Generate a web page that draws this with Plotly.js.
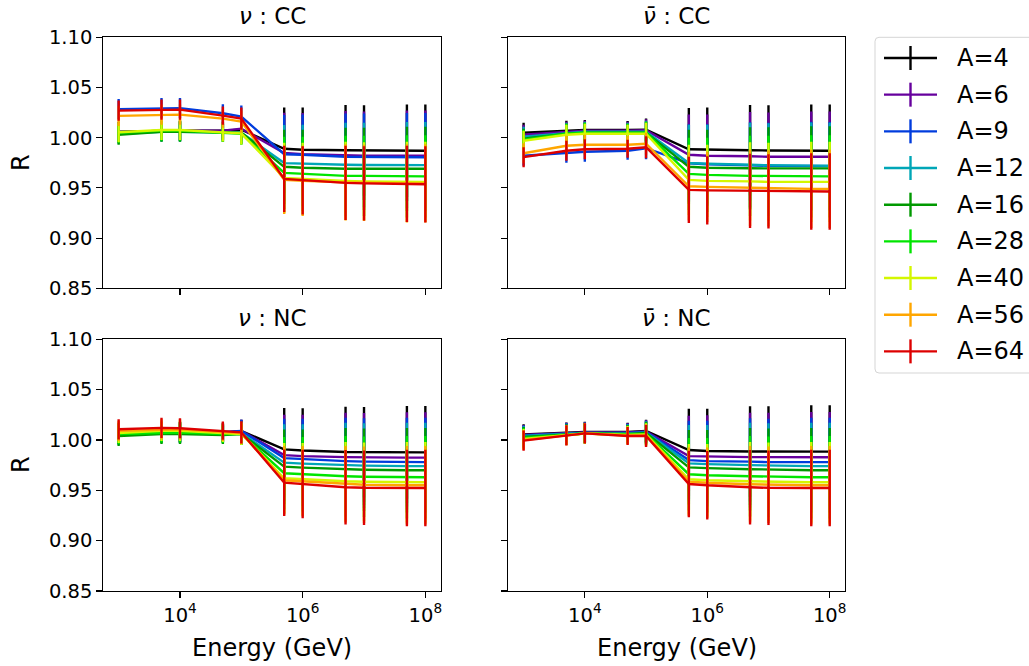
<!DOCTYPE html>
<html><head><meta charset="utf-8">
<script src="https://cdn.plot.ly/plotly-3.0.1.min.js"></script>
<style>html,body{margin:0;padding:0;background:#fff;} #chart{width:1029px;height:666px;}</style>
</head><body><div id="chart"></div>
<script>
// ---------------- data ----------------
const energy = [1e3, 5e3, 1e4, 5e4, 1e5, 5e5, 1e6, 5e6, 1e7, 5e7, 1e8];
const seriesLabels = ['A=4', 'A=6', 'A=9', 'A=12', 'A=16', 'A=28', 'A=40', 'A=56', 'A=64'];
const seriesColors = ['#000000', '#66009d', '#003cdd', '#00a6b7', '#009900', '#00e500', '#d4f700', '#ffa600', '#dd0000'];
const panelTitles = ['<i>ν</i> : CC', '<i>ν̄</i> : CC', '<i>ν</i> : NC', '<i>ν̄</i> : NC'];
const xTickVals = [1e4, 1e6, 1e8];
const xTickText = ['10<sup>4</sup>', '10<sup>6</sup>', '10<sup>8</sup>'];
const yTickVals = [0.85, 0.90, 0.95, 1.00, 1.05, 1.10];
const yTickText = ['0.85', '0.90', '0.95', '1.00', '1.05', '1.10'];

// R values, one row per series (A=4 ... A=64)
const nuCC = [
  [1.006, 1.007, 1.007, 1.007, 1.008, 0.989, 0.988, 0.9875, 0.9873, 0.987, 0.987],
  [1.005, 1.007, 1.007, 1.007, 1.009, 0.9848, 0.9835, 0.9825, 0.982, 0.982, 0.982],
  [1.0285, 1.0295, 1.0295, 1.0243, 1.021, 0.9835, 0.983, 0.981, 0.981, 0.9807, 0.9806],
  [1.004, 1.006, 1.006, 1.005, 1.005, 0.9747, 0.974, 0.973, 0.9728, 0.9727, 0.9727],
  [1.003, 1.006, 1.006, 1.005, 1.005, 0.971, 0.970, 0.969, 0.969, 0.969, 0.969],
  [1.005, 1.007, 1.007, 1.005, 1.004, 0.965, 0.964, 0.962, 0.962, 0.9615, 0.9615],
  [1.0055, 1.0077, 1.0077, 1.0053, 1.0043, 0.960, 0.959, 0.957, 0.9565, 0.956, 0.956],
  [1.0217, 1.023, 1.023, 1.019, 1.016, 0.958, 0.957, 0.9555, 0.955, 0.9545, 0.9545],
  [1.027, 1.028, 1.028, 1.022, 1.019, 0.959, 0.9576, 0.955, 0.9545, 0.954, 0.9536]
];
const nubarCC = [
  [1.0049, 1.007, 1.0076, 1.0076, 1.008, 0.9885, 0.988, 0.9875, 0.9873, 0.987, 0.987],
  [1.003, 1.006, 1.007, 1.007, 1.0075, 0.983, 0.982, 0.9815, 0.981, 0.981, 0.981],
  [0.982, 0.985, 0.986, 0.987, 0.9895, 0.9745, 0.9735, 0.9725, 0.972, 0.9718, 0.9717],
  [1.001, 1.005, 1.006, 1.006, 1.006, 0.9748, 0.974, 0.973, 0.9725, 0.9722, 0.972],
  [0.999, 1.004, 1.005, 1.005, 1.005, 0.971, 0.970, 0.9695, 0.9694, 0.9694, 0.9694],
  [0.998, 1.004, 1.005, 1.005, 1.005, 0.964, 0.963, 0.962, 0.962, 0.9615, 0.9615],
  [0.997, 1.003, 1.004, 1.004, 1.004, 0.958, 0.957, 0.9565, 0.956, 0.956, 0.956],
  [0.9845, 0.992, 0.993, 0.993, 0.994, 0.9516, 0.951, 0.950, 0.9495, 0.949, 0.949],
  [0.9806, 0.987, 0.9885, 0.989, 0.9905, 0.948, 0.9475, 0.947, 0.9466, 0.9464, 0.9464]
];
const nuNC = [
  [1.006, 1.0075, 1.0075, 1.007, 1.009, 0.9907, 0.9895, 0.988, 0.9878, 0.9877, 0.9877],
  [1.006, 1.0075, 1.0075, 1.007, 1.009, 0.985, 0.984, 0.983, 0.9827, 0.9825, 0.9825],
  [1.007, 1.008, 1.008, 1.008, 1.009, 0.982, 0.981, 0.979, 0.9785, 0.978, 0.978],
  [1.005, 1.007, 1.007, 1.006, 1.007, 0.9775, 0.9765, 0.975, 0.9745, 0.974, 0.974],
  [1.004, 1.006, 1.006, 1.005, 1.006, 0.9735, 0.9725, 0.971, 0.9705, 0.970, 0.970],
  [1.006, 1.0075, 1.0075, 1.006, 1.006, 0.967, 0.966, 0.964, 0.9635, 0.963, 0.963],
  [1.007, 1.009, 1.009, 1.007, 1.006, 0.962, 0.961, 0.959, 0.9585, 0.958, 0.958],
  [1.009, 1.0105, 1.0105, 1.008, 1.007, 0.960, 0.959, 0.956, 0.9555, 0.955, 0.955],
  [1.0106, 1.012, 1.0116, 1.0093, 1.0076, 0.9576, 0.9563, 0.953, 0.9525, 0.9523, 0.9523]
];
const nubarNC = [
  [1.0056, 1.0073, 1.008, 1.008, 1.009, 0.990, 0.989, 0.9886, 0.9885, 0.9884, 0.9884],
  [1.005, 1.007, 1.0075, 1.0075, 1.0085, 0.984, 0.9835, 0.983, 0.983, 0.9828, 0.9828],
  [1.0045, 1.0065, 1.007, 1.007, 1.008, 0.980, 0.979, 0.9785, 0.978, 0.978, 0.978],
  [1.004, 1.006, 1.007, 1.0065, 1.0075, 0.9768, 0.976, 0.975, 0.9745, 0.974, 0.974],
  [1.003, 1.0055, 1.0065, 1.006, 1.007, 0.9728, 0.972, 0.971, 0.9705, 0.970, 0.970],
  [1.002, 1.005, 1.0065, 1.0055, 1.006, 0.966, 0.965, 0.964, 0.9635, 0.963, 0.963],
  [1.001, 1.005, 1.0065, 1.005, 1.0055, 0.961, 0.960, 0.959, 0.9585, 0.958, 0.958],
  [1.000, 1.0048, 1.0066, 1.0045, 1.0048, 0.9586, 0.9575, 0.956, 0.9555, 0.955, 0.955],
  [0.9993, 1.0046, 1.0066, 1.004, 1.004, 0.9563, 0.955, 0.953, 0.9525, 0.9523, 0.9523]
];
// uncertainties on R, one row per series
const errR = [
  [0.010, 0.010, 0.010, 0.009, 0.011, 0.041, 0.042, 0.045, 0.045, 0.046, 0.046],
  [0.010, 0.010, 0.010, 0.009, 0.011, 0.040, 0.041, 0.044, 0.044, 0.045, 0.045],
  [0.010, 0.010, 0.010, 0.009, 0.011, 0.039, 0.040, 0.043, 0.043, 0.044, 0.044],
  [0.010, 0.010, 0.010, 0.009, 0.011, 0.038, 0.039, 0.042, 0.042, 0.043, 0.043],
  [0.010, 0.010, 0.010, 0.009, 0.011, 0.037, 0.038, 0.041, 0.041, 0.042, 0.042],
  [0.010, 0.010, 0.010, 0.009, 0.011, 0.036, 0.037, 0.040, 0.040, 0.041, 0.041],
  [0.010, 0.010, 0.010, 0.009, 0.011, 0.035, 0.036, 0.039, 0.039, 0.040, 0.040],
  [0.010, 0.010, 0.010, 0.009, 0.011, 0.034, 0.035, 0.038, 0.038, 0.039, 0.039],
  [0.010, 0.010, 0.010, 0.009, 0.011, 0.033, 0.034, 0.037, 0.037, 0.038, 0.038]
];
const panels = [nuCC, nubarCC, nuNC, nubarNC];

// ---------------- layout helpers ----------------
const W = 1029, H = 666;
const FONT = 'DejaVu Sans, Liberation Sans, sans-serif';
const px = x => x / W;
const py = y => 1 - y / H;

const colDom = [[px(103.3), px(440.7)], [px(508.3), px(845)]];
const rowDom = [[py(288.3), py(37.3)], [py(591), py(339.3)]];

const traces = [];
panels.forEach((panel, p) => {
  const ax = p === 0 ? '' : String(p + 1);
  panel.forEach((vals, s) => {
    traces.push({
      type: 'scatter', mode: 'lines',
      x: energy, y: vals,
      xaxis: 'x' + ax, yaxis: 'y' + ax,
      name: seriesLabels[s],
      showlegend: false,
      line: {color: seriesColors[s], width: 2.4},
      error_y: {type: 'data', array: errR[s], symmetric: true, color: seriesColors[s], thickness: 2.4, width: 0}
    });
  });
});

function xAxis(dom, anchor, showLabels) {
  return {
    domain: dom, anchor: anchor, type: 'log', range: [2.75, 8.25],
    tickmode: 'array', tickvals: xTickVals, ticktext: xTickText, showticklabels: showLabels,
    ticks: 'outside', ticklen: 6, tickwidth: 1.1, tickcolor: '#000',
    showline: true, linecolor: '#000', linewidth: 1.1, mirror: true,
    showgrid: false, zeroline: false,
    tickfont: {family: FONT, size: 19.5, color: '#000'}
  };
}
function yAxis(dom, anchor, showLabels) {
  return {
    domain: dom, anchor: anchor, range: [0.85, 1.10],
    tickmode: 'array', tickvals: yTickVals, ticktext: yTickText, showticklabels: showLabels,
    ticks: 'outside', ticklen: 6, tickwidth: 1.1, tickcolor: '#000',
    showline: true, linecolor: '#000', linewidth: 1.1, mirror: true,
    showgrid: false, zeroline: false,
    tickfont: {family: FONT, size: 19.5, color: '#000'}
  };
}

const annotations = [];
const shapes = [];
const titleCenters = [[272, 16], [676.6, 16], [272, 318], [676.6, 318]];
panelTitles.forEach((t, i) => {
  annotations.push({text: t, xref: 'paper', yref: 'paper', x: px(titleCenters[i][0]), y: py(titleCenters[i][1]),
    xanchor: 'center', yanchor: 'middle', showarrow: false, font: {family: FONT, size: 23, color: '#000'}});
});
[163, 465].forEach(yc => annotations.push({text: 'R', textangle: -90, xref: 'paper', yref: 'paper', x: px(21), y: py(yc),
  xanchor: 'center', yanchor: 'middle', showarrow: false, font: {family: FONT, size: 24, color: '#000'}}));
[272, 676.6].forEach(xc => annotations.push({text: 'Energy (GeV)', xref: 'paper', yref: 'paper', x: px(xc), y: py(648),
  xanchor: 'center', yanchor: 'middle', showarrow: false, font: {family: FONT, size: 24, color: '#000'}}));

// legend (drawn by hand to show the errorbar "+" handles)
const lx0 = 875, lx1 = 1040, ly0 = 37.3, ly1 = 373, r = 4;
shapes.push({type: 'path', xref: 'paper', yref: 'paper',
  path: `M ${px(lx0 + r)} ${py(ly0)} L ${px(lx1)} ${py(ly0)} L ${px(lx1)} ${py(ly1)} L ${px(lx0 + r)} ${py(ly1)} ` +
        `Q ${px(lx0)} ${py(ly1)} ${px(lx0)} ${py(ly1 - r)} L ${px(lx0)} ${py(ly0 + r)} Q ${px(lx0)} ${py(ly0)} ${px(lx0 + r)} ${py(ly0)} Z`,
  line: {color: '#d5d5d5', width: 1}, fillcolor: 'rgba(255,255,255,0.8)'});
seriesLabels.forEach((lab, i) => {
  const yc = 58 + i * 36.67;
  shapes.push({type: 'line', xref: 'paper', yref: 'paper', x0: px(884), x1: px(937), y0: py(yc), y1: py(yc),
    line: {color: seriesColors[i], width: 2.4}});
  shapes.push({type: 'line', xref: 'paper', yref: 'paper', x0: px(910.5), x1: px(910.5), y0: py(yc - 12), y1: py(yc + 12),
    line: {color: seriesColors[i], width: 2.4}});
  annotations.push({text: lab, xref: 'paper', yref: 'paper', x: px(955), y: py(yc), xanchor: 'left', yanchor: 'middle',
    showarrow: false, font: {family: FONT, size: 24, color: '#000'}});
});

const layout = {
  width: W, height: H, margin: {l: 0, r: 0, t: 0, b: 0},
  paper_bgcolor: '#fff', plot_bgcolor: '#fff', showlegend: false,
  font: {family: FONT, color: '#000'},
  xaxis: xAxis(colDom[0], 'y', false), yaxis: yAxis(rowDom[0], 'x', true),
  xaxis2: xAxis(colDom[1], 'y2', false), yaxis2: yAxis(rowDom[0], 'x2', false),
  xaxis3: xAxis(colDom[0], 'y3', true), yaxis3: yAxis(rowDom[1], 'x3', true),
  xaxis4: xAxis(colDom[1], 'y4', true), yaxis4: yAxis(rowDom[1], 'x4', false),
  annotations: annotations, shapes: shapes
};
Plotly.newPlot('chart', traces, layout, {displayModeBar: false, staticPlot: true});
</script></body></html>
